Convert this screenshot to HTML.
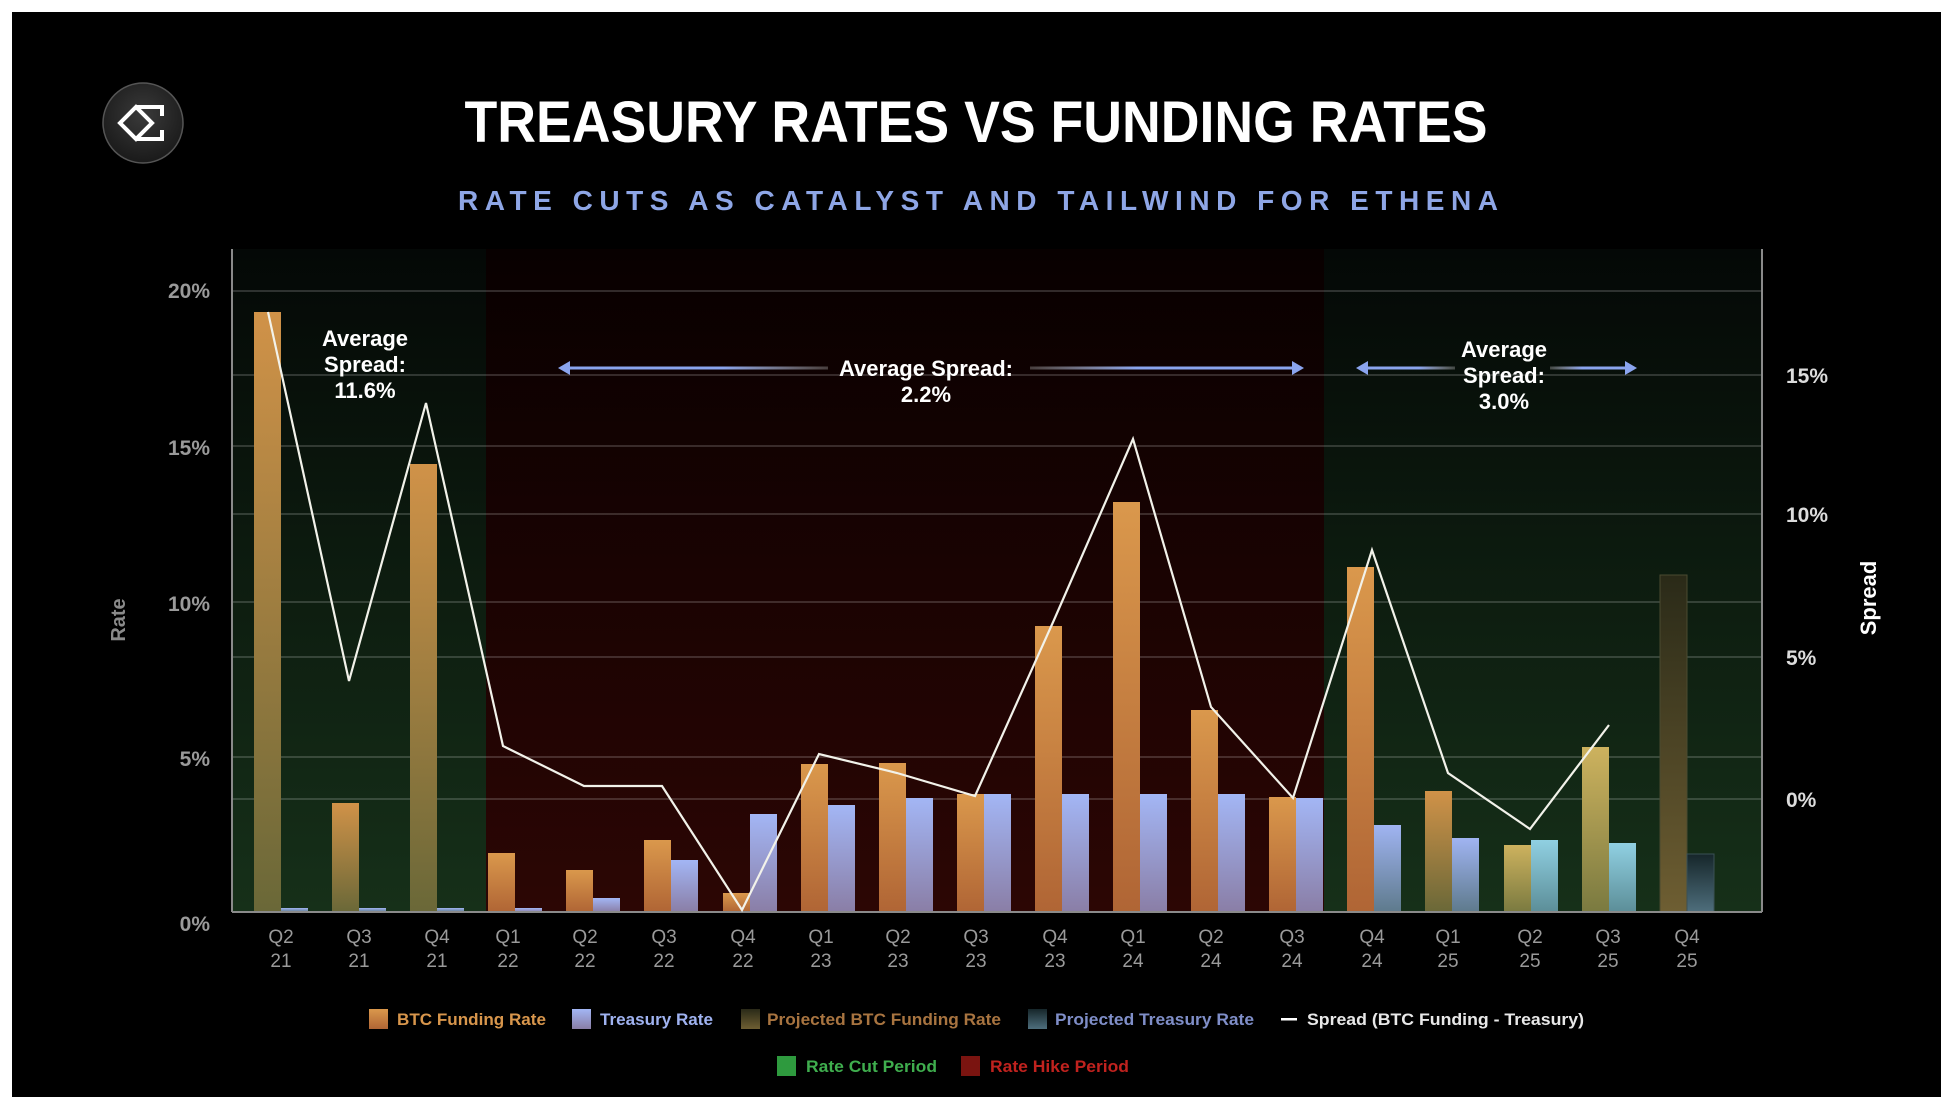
<!DOCTYPE html>
<html><head><meta charset="utf-8"><style>
html,body{margin:0;padding:0;background:#fff;}
svg{display:block;font-family:"Liberation Sans",sans-serif;}
</style></head><body>
<svg width="1955" height="1109" viewBox="0 0 1955 1109" xmlns="http://www.w3.org/2000/svg">
<defs>
<linearGradient id="bgG" x1="0" y1="0" x2="0" y2="1"><stop offset="0" stop-color="#040806"/><stop offset="1" stop-color="#163019"/></linearGradient>
<linearGradient id="bgR" x1="0" y1="0" x2="0" y2="1"><stop offset="0" stop-color="#080000"/><stop offset="1" stop-color="#2c0604"/></linearGradient>
<linearGradient id="fg" x1="0" y1="0" x2="0" y2="1"><stop offset="0" stop-color="#d09248"/><stop offset="1" stop-color="#6a6838"/></linearGradient>
<linearGradient id="fr" x1="0" y1="0" x2="0" y2="1"><stop offset="0" stop-color="#da984c"/><stop offset="1" stop-color="#b06535"/></linearGradient>
<linearGradient id="fo" x1="0" y1="0" x2="0" y2="1"><stop offset="0" stop-color="#cdb25e"/><stop offset="1" stop-color="#7a7a40"/></linearGradient>
<linearGradient id="tr" x1="0" y1="0" x2="0" y2="1"><stop offset="0" stop-color="#a3b6f5"/><stop offset="1" stop-color="#8a7ea6"/></linearGradient>
<linearGradient id="tg" x1="0" y1="0" x2="0" y2="1"><stop offset="0" stop-color="#a0b4f2"/><stop offset="1" stop-color="#5e7a8c"/></linearGradient>
<linearGradient id="tt" x1="0" y1="0" x2="0" y2="1"><stop offset="0" stop-color="#90d0e2"/><stop offset="1" stop-color="#5c8e98"/></linearGradient>
<linearGradient id="pf" x1="0" y1="0" x2="0" y2="1"><stop offset="0" stop-color="#2a2a18"/><stop offset="1" stop-color="#6e5e32"/></linearGradient>
<linearGradient id="pt" x1="0" y1="0" x2="0" y2="1"><stop offset="0" stop-color="#16262a"/><stop offset="1" stop-color="#4e6e7c"/></linearGradient>
<linearGradient id="arrL" x1="0" y1="0" x2="1" y2="0"><stop offset="0" stop-color="#8aa4ee"/><stop offset="0.6" stop-color="#8aa4ee"/><stop offset="1" stop-color="#cccccc" stop-opacity="0.3"/></linearGradient>
<linearGradient id="arrR" x1="0" y1="0" x2="1" y2="0"><stop offset="0" stop-color="#cccccc" stop-opacity="0.3"/><stop offset="0.4" stop-color="#8aa4ee"/><stop offset="1" stop-color="#8aa4ee"/></linearGradient>
<radialGradient id="logo" cx="0.5" cy="0.4" r="0.6"><stop offset="0" stop-color="#3a3a3a"/><stop offset="1" stop-color="#1a1a1a"/></radialGradient>
</defs>
<rect x="12" y="12" width="1929" height="1085" fill="#000"/>
<circle cx="143" cy="123" r="40" fill="url(#logo)" stroke="#555" stroke-width="1.5"/>
<path d="M120 123 L136 107 L152 123 L136 139 Z M136 107 L162 107 L162 116 M136 139 L162 139 L162 130" fill="none" stroke="#fff" stroke-width="4"/>
<text x="976" y="142" text-anchor="middle" fill="#fff" font-size="58" font-weight="bold" textLength="1023" lengthAdjust="spacingAndGlyphs">TREASURY RATES VS  FUNDING RATES</text>
<text x="978" y="210" text-anchor="middle" fill="#8ea6e6" font-size="28" font-weight="bold" textLength="1040" lengthAdjust="spacing">RATE CUTS AS CATALYST AND TAILWIND FOR ETHENA</text>
<rect x="232" y="249" width="254" height="663" fill="url(#bgG)"/>
<rect x="486" y="249" width="838" height="663" fill="url(#bgR)"/>
<rect x="1324" y="249" width="438" height="663" fill="url(#bgG)"/>
<g stroke="#ffffff" stroke-opacity="0.22" stroke-width="1.5">
<line x1="232" y1="291" x2="1762" y2="291"/><line x1="232" y1="446" x2="1762" y2="446"/><line x1="232" y1="602" x2="1762" y2="602"/><line x1="232" y1="757" x2="1762" y2="757"/>
<line x1="232" y1="375" x2="1762" y2="375"/><line x1="232" y1="514" x2="1762" y2="514"/><line x1="232" y1="657" x2="1762" y2="657"/><line x1="232" y1="799" x2="1762" y2="799"/>
</g>
<g>
<rect x="254" y="312" width="27" height="600" fill="url(#fg)"/>
<rect x="332" y="803" width="27" height="109" fill="url(#fg)"/>
<rect x="410" y="464" width="27" height="448" fill="url(#fg)"/>
<rect x="488" y="853" width="27" height="59" fill="url(#fr)"/>
<rect x="566" y="870" width="27" height="42" fill="url(#fr)"/>
<rect x="644" y="840" width="27" height="72" fill="url(#fr)"/>
<rect x="723" y="893" width="27" height="19" fill="url(#fr)"/>
<rect x="801" y="764" width="27" height="148" fill="url(#fr)"/>
<rect x="879" y="763" width="27" height="149" fill="url(#fr)"/>
<rect x="957" y="794" width="27" height="118" fill="url(#fr)"/>
<rect x="1035" y="626" width="27" height="286" fill="url(#fr)"/>
<rect x="1113" y="502" width="27" height="410" fill="url(#fr)"/>
<rect x="1191" y="710" width="27" height="202" fill="url(#fr)"/>
<rect x="1269" y="797" width="27" height="115" fill="url(#fr)"/>
<rect x="1347" y="567" width="27" height="345" fill="url(#fr)"/>
<rect x="1425" y="791" width="27" height="121" fill="url(#fg)"/>
<rect x="1504" y="845" width="27" height="67" fill="url(#fo)"/>
<rect x="1582" y="747" width="27" height="165" fill="url(#fo)"/>
<rect x="1660" y="575" width="27" height="337" fill="url(#pf)" stroke="#4a4a30" stroke-width="1"/>
<rect x="281" y="908" width="27" height="4" fill="url(#tg)"/>
<rect x="359" y="908" width="27" height="4" fill="url(#tg)"/>
<rect x="437" y="908" width="27" height="4" fill="url(#tg)"/>
<rect x="515" y="908" width="27" height="4" fill="url(#tr)"/>
<rect x="593" y="898" width="27" height="14" fill="url(#tr)"/>
<rect x="671" y="860" width="27" height="52" fill="url(#tr)"/>
<rect x="750" y="814" width="27" height="98" fill="url(#tr)"/>
<rect x="828" y="805" width="27" height="107" fill="url(#tr)"/>
<rect x="906" y="798" width="27" height="114" fill="url(#tr)"/>
<rect x="984" y="794" width="27" height="118" fill="url(#tr)"/>
<rect x="1062" y="794" width="27" height="118" fill="url(#tr)"/>
<rect x="1140" y="794" width="27" height="118" fill="url(#tr)"/>
<rect x="1218" y="794" width="27" height="118" fill="url(#tr)"/>
<rect x="1296" y="798" width="27" height="114" fill="url(#tr)"/>
<rect x="1374" y="825" width="27" height="87" fill="url(#tg)"/>
<rect x="1452" y="838" width="27" height="74" fill="url(#tg)"/>
<rect x="1531" y="840" width="27" height="72" fill="url(#tt)"/>
<rect x="1609" y="843" width="27" height="69" fill="url(#tt)"/>
<rect x="1687" y="854" width="27" height="58" fill="url(#pt)" stroke="#3a5055" stroke-width="1"/>
</g>
<g stroke="#8a8a8a" stroke-width="2">
<line x1="232" y1="249" x2="232" y2="912"/><line x1="1762" y1="249" x2="1762" y2="912"/><line x1="232" y1="912" x2="1762" y2="912"/>
</g>
<polyline fill="none" stroke="#f2f2ea" stroke-width="2.2" points="268,312 349,681 426,403 503,746 584,786 662,786 742,910 819,754 897,773 975,796 1054,620 1133,439 1211,707 1293,798 1372,550 1448,773 1530,829 1609,725"/>
<g fill="#fff" font-weight="bold" font-size="22" text-anchor="middle">
<text x="365" y="346">Average</text><text x="365" y="372">Spread:</text><text x="365" y="398">11.6%</text>
<text x="926" y="376">Average Spread:</text><text x="926" y="402">2.2%</text>
<text x="1504" y="357">Average</text><text x="1504" y="383">Spread:</text><text x="1504" y="409">3.0%</text>
</g>
<rect x="565" y="366.5" width="263" height="3" fill="url(#arrL)"/>
<rect x="1030" y="366.5" width="267" height="3" fill="url(#arrR)"/>
<path d="M558 368 L570 361 L570 375 Z" fill="#8aa4ee"/><path d="M1304 368 L1292 361 L1292 375 Z" fill="#8aa4ee"/>
<rect x="1365" y="366.5" width="90" height="3" fill="url(#arrL)"/>
<rect x="1550" y="366.5" width="80" height="3" fill="url(#arrR)"/>
<path d="M1356 368 L1368 361 L1368 375 Z" fill="#8aa4ee"/><path d="M1637 368 L1625 361 L1625 375 Z" fill="#8aa4ee"/>
<g fill="#9a9a9a" font-size="21" font-weight="bold" text-anchor="end">
<text x="210" y="298">20%</text><text x="210" y="455">15%</text><text x="210" y="611">10%</text><text x="210" y="766">5%</text><text x="210" y="931">0%</text>
</g>
<text transform="translate(125,620) rotate(-90)" fill="#8a8a8a" font-size="20" font-weight="bold" text-anchor="middle">Rate</text>
<g fill="#dcdcdc" font-size="21" font-weight="bold">
<text x="1786" y="383">15%</text><text x="1786" y="522">10%</text><text x="1786" y="665">5%</text><text x="1786" y="807">0%</text>
</g>
<text transform="translate(1876,598) rotate(-90)" fill="#fff" font-size="22" font-weight="bold" text-anchor="middle">Spread</text>
<g fill="#9a9a9a" font-size="19" text-anchor="middle">
<text x="281" y="943">Q2</text><text x="281" y="967">21</text>
<text x="359" y="943">Q3</text><text x="359" y="967">21</text>
<text x="437" y="943">Q4</text><text x="437" y="967">21</text>
<text x="508" y="943">Q1</text><text x="508" y="967">22</text>
<text x="585" y="943">Q2</text><text x="585" y="967">22</text>
<text x="664" y="943">Q3</text><text x="664" y="967">22</text>
<text x="743" y="943">Q4</text><text x="743" y="967">22</text>
<text x="821" y="943">Q1</text><text x="821" y="967">23</text>
<text x="898" y="943">Q2</text><text x="898" y="967">23</text>
<text x="976" y="943">Q3</text><text x="976" y="967">23</text>
<text x="1055" y="943">Q4</text><text x="1055" y="967">23</text>
<text x="1133" y="943">Q1</text><text x="1133" y="967">24</text>
<text x="1211" y="943">Q2</text><text x="1211" y="967">24</text>
<text x="1292" y="943">Q3</text><text x="1292" y="967">24</text>
<text x="1372" y="943">Q4</text><text x="1372" y="967">24</text>
<text x="1448" y="943">Q1</text><text x="1448" y="967">25</text>
<text x="1530" y="943">Q2</text><text x="1530" y="967">25</text>
<text x="1608" y="943">Q3</text><text x="1608" y="967">25</text>
<text x="1687" y="943">Q4</text><text x="1687" y="967">25</text>
</g>
<g font-size="17" font-weight="bold">
<rect x="369" y="1009" width="19" height="20" fill="url(#fr)"/>
<text x="397" y="1025" fill="#d8964c" textLength="149" lengthAdjust="spacingAndGlyphs">BTC Funding Rate</text>
<rect x="572" y="1009" width="19" height="20" fill="url(#tr)"/>
<text x="600" y="1025" fill="#9fb2f0" textLength="113" lengthAdjust="spacingAndGlyphs">Treasury Rate</text>
<rect x="741" y="1009" width="19" height="20" fill="url(#pf)"/>
<text x="767" y="1025" fill="#a87440" textLength="234" lengthAdjust="spacingAndGlyphs">Projected BTC Funding Rate</text>
<rect x="1028" y="1009" width="19" height="20" fill="url(#pt)"/>
<text x="1055" y="1025" fill="#7f8ec8" textLength="199" lengthAdjust="spacingAndGlyphs">Projected Treasury Rate</text>
<rect x="1281" y="1018" width="16" height="2.5" fill="#fff"/>
<text x="1307" y="1025" fill="#e8e8e8" textLength="277" lengthAdjust="spacingAndGlyphs">Spread (BTC Funding -  Treasury)</text>
<rect x="777" y="1056" width="19" height="20" fill="#2e9a3e"/>
<text x="806" y="1072" fill="#3fae4e" textLength="131" lengthAdjust="spacingAndGlyphs">Rate Cut Period</text>
<rect x="961" y="1056" width="19" height="20" fill="#7a1410"/>
<text x="990" y="1072" fill="#c0221e" textLength="139" lengthAdjust="spacingAndGlyphs">Rate Hike Period</text>
</g>
</svg>
</body></html>
